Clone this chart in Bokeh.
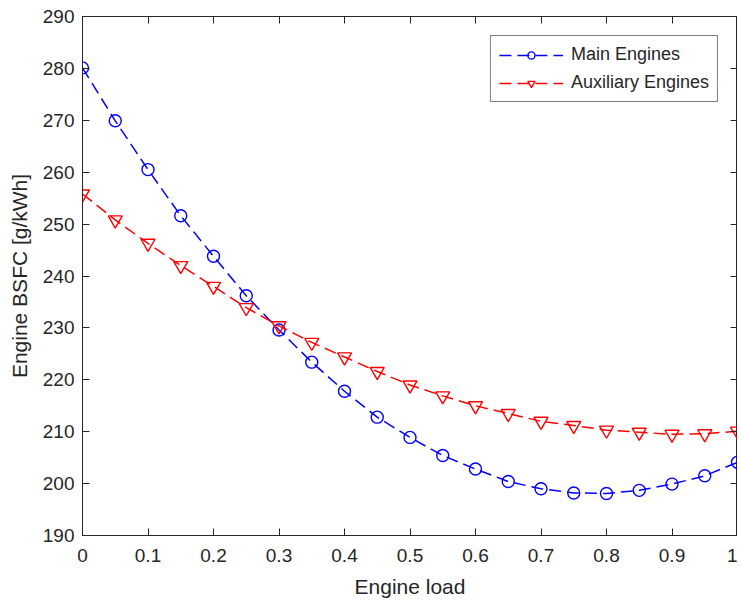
from bokeh.plotting import figure
from bokeh.models import (Range1d, LinearAxis, SingleIntervalTicker, NumeralTickFormatter,
                          CustomJSTickFormatter, Legend, LegendItem)
from bokeh.embed import file_html
from bokeh.resources import INLINE

engine_load = [0.0, 0.05, 0.1, 0.15, 0.2, 0.25, 0.3, 0.35, 0.4, 0.45, 0.5,
               0.55, 0.6, 0.65, 0.7, 0.75, 0.8, 0.85, 0.9, 0.95, 1.0]
main_bsfc = [280.1, 269.9, 260.5, 251.6, 243.8, 236.2, 229.6, 223.4, 217.8, 212.8, 208.9,
             205.4, 202.8, 200.4, 199.0, 198.2, 198.1, 198.7, 199.9, 201.5, 204.1]
aux_bsfc = [255.8, 250.8, 246.3, 242.0, 238.0, 233.9, 230.4, 227.2, 224.4, 221.6, 219.0,
            216.9, 215.0, 213.5, 212.0, 211.2, 210.3, 209.9, 209.5, 209.6, 210.1]
series_names = ["Main Engines", "Auxiliary Engines"]

FONT = "Liberation Sans"
TXT = "#262626"

p = figure(frame_width=655, frame_height=519,
           x_range=Range1d(0, 1), y_range=Range1d(190, 290),
           output_backend="svg", toolbar_location=None,
           min_border_left=82, min_border_top=16, min_border_right=0, min_border_bottom=0,
           background_fill_color="white", border_fill_color="white")
p.grid.visible = False
p.outline_line_color = TXT
p.outline_line_width = 1

p.xaxis.ticker = SingleIntervalTicker(interval=0.1, num_minor_ticks=0)
p.yaxis.ticker = SingleIntervalTicker(interval=10, num_minor_ticks=0)
p.xaxis.formatter = NumeralTickFormatter(format="0.[0]")

def style_axis(ax, show_labels=True):
    ax.axis_line_color = TXT
    ax.major_tick_line_color = TXT
    ax.major_tick_in = 7
    ax.major_tick_out = 0
    ax.minor_tick_line_color = None
    ax.major_label_text_font = FONT
    ax.major_label_text_color = TXT
    ax.axis_label_text_font = FONT
    ax.axis_label_text_color = TXT
    ax.axis_label_text_font_style = "normal"
    ax.major_label_text_font_size = "19px"
    ax.axis_label_text_font_size = "21px"
    if not show_labels:
        ax.formatter = CustomJSTickFormatter(code="return '';")
        ax.major_label_standoff = 0

style_axis(p.xaxis[0])
style_axis(p.yaxis[0])
p.xaxis.axis_label = "Engine load"
p.yaxis.axis_label = "Engine BSFC [g/kWh]"
p.xaxis.major_label_standoff = 13
p.yaxis.major_label_standoff = 8
p.xaxis.axis_label_standoff = 10
p.yaxis.axis_label_standoff = 9

top_ax = LinearAxis(ticker=SingleIntervalTicker(interval=0.1, num_minor_ticks=0))
right_ax = LinearAxis(ticker=SingleIntervalTicker(interval=10, num_minor_ticks=0))
style_axis(top_ax, False)
style_axis(right_ax, False)
p.add_layout(top_ax, "above")
p.add_layout(right_ax, "right")

BLUE = "#0000ff"
RED = "#ff0000"
DASH = "12 6"

l1 = p.line(engine_load, main_bsfc, line_color=BLUE, line_width=1.5, line_dash=DASH)
s1 = p.scatter(engine_load, main_bsfc, marker="circle", size=12, fill_color=None,
               line_color=BLUE, line_width=1.4)
l2 = p.line(engine_load, aux_bsfc, line_color=RED, line_width=1.5, line_dash=DASH)
s2 = p.scatter(engine_load, aux_bsfc, marker="inverted_triangle", size=14, fill_color=None,
               line_color=RED, line_width=1.4)

legend = Legend(items=[LegendItem(label=series_names[0], renderers=[l1, s1]),
                       LegendItem(label=series_names[1], renderers=[l2, s2])],
                location="top_right", margin=19,
                border_line_color="#000000", border_line_width=1,
                background_fill_color="white", background_fill_alpha=1,
                label_text_font=FONT, label_text_font_size="18px", label_text_color=TXT,
                glyph_width=64, glyph_height=18, spacing=7, padding=8,
                label_standoff=8, label_height=18)
p.add_layout(legend)

open("out.html", "w").write(file_html(p, INLINE))
